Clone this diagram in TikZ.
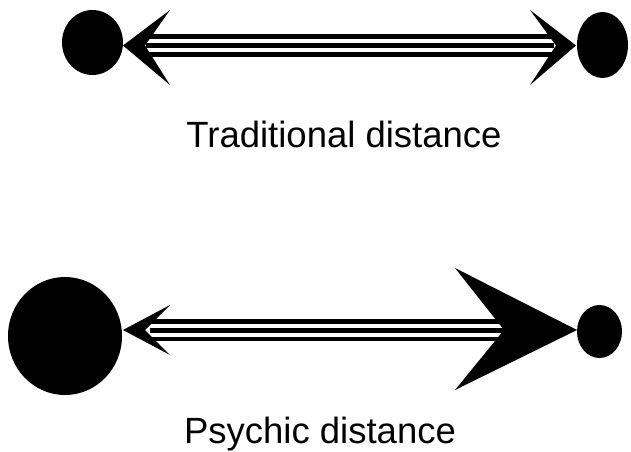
\documentclass[tikz,border=0pt]{standalone}
\usepackage{fontspec}
\setmainfont{Liberation Sans}
\usetikzlibrary{shapes.geometric}
\tikzset{
  blob/.style={ellipse, fill=black, draw=none, inner sep=0pt},
  headfill/.style={fill=black, draw=none},
  lbl/.style={anchor=base, inner sep=0pt, font=\fontsize{36.5}{40}\selectfont},
  tripleA/.style={line width=22pt, black},
  tripleB/.style={line width=13pt, white},
  tripleC/.style={line width=5pt, black}
}
\newcommand{\tripleline}[2]{%
  \draw[tripleA] (#1) -- (#2);
  \draw[tripleB] (#1) -- (#2);
  \draw[tripleC] (#1) -- (#2);}
\begin{document}
\begin{tikzpicture}[x=1pt,y=1pt]
\useasboundingbox (0,0) rectangle (631,451);
% ---------- top row ----------
\node[blob, minimum width=61pt, minimum height=65pt] (tl) at (92.5,408.5) {};
\node[blob, minimum width=51pt, minimum height=66pt] (tr) at (602.5,406) {};
\coordinate (tlE) at (146,405.5);
\coordinate (trE) at (554,405.5);
\tripleline{tlE}{trE}
\coordinate (tlTip) at (123,405.5);
\coordinate (tlN) at (145,405.5);
\fill[headfill] (tlTip) -- (170,441) -- (tlN) -- (170,366) -- cycle;
\coordinate (trTip) at (576,405.5);
\coordinate (trN) at (556,405.5);
\fill[headfill] (trTip) -- (530,441) -- (trN) -- (530,366) -- cycle;
\node[lbl] (t1) at (344,304) {Traditional distance};
% ---------- bottom row ----------
\node[blob, minimum width=114pt, minimum height=118pt] (bl) at (65,115) {};
\node[blob, minimum width=45pt, minimum height=53pt] (br) at (599.5,119.5) {};
\coordinate (blE) at (150,121);
\coordinate (brE) at (512,121);
\tripleline{blE}{brE}
\coordinate (blTip) at (123,121);
\coordinate (blN) at (145,121);
\fill[headfill] (blTip) -- (170,146) -- (blN) -- (170,96) -- cycle;
\coordinate (brTip) at (577,121);
\coordinate (brN) at (504,121);
\fill[headfill] (brTip) -- (455,183) -- (brN) -- (455,61) -- cycle;
\node[lbl] (t2) at (320,8) {Psychic distance};
\end{tikzpicture}
\end{document}
